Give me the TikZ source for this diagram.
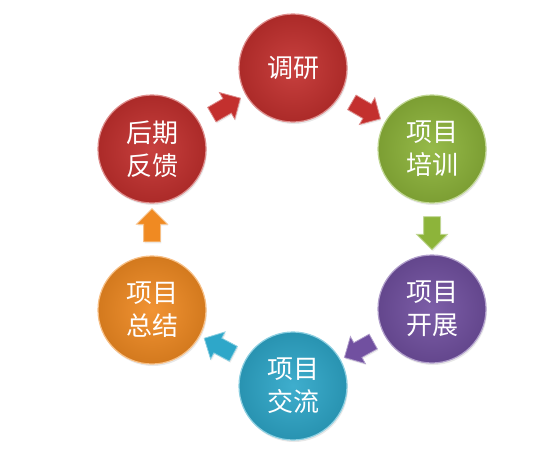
\documentclass[tikz,border=0pt]{standalone}
\usepackage{fontspec}
\newfontfamily\cjk{Noto Sans CJK SC}
\usetikzlibrary{shapes.arrows,shadows,calc}
\definecolor{cred}{HTML}{C3302E}
\definecolor{cgreen}{HTML}{8DB43A}
\definecolor{cpurple}{HTML}{7150A0}
\definecolor{ccyan}{HTML}{2EA7C9}
\definecolor{corange}{HTML}{F08A22}
\begin{document}
\begin{tikzpicture}[x=1pt,y=-1pt,
  ballnode/.style={circle, minimum size=108pt, inner sep=0pt, text=white,
    font=\cjk\fontsize{26}{33}\selectfont, align=center,
    draw=#1!55!white, line width=1.2pt, shading=radial,
    inner color=#1!92!white, outer color=#1!88!black,
    drop shadow={opacity=0.18, shadow xshift=1pt, shadow yshift=-2pt}},
  flowarrow/.style={single arrow, minimum height=33pt, minimum width=30pt,
    single arrow head extend=7pt, single arrow head indent=0pt,
    inner sep=0pt, text height=16pt, text depth=0pt, text width=0pt,
    fill=#1, draw=#1!55!white, line width=0.8pt,
    drop shadow={opacity=0.15, shadow xshift=1pt, shadow yshift=-1.5pt}}
]
\useasboundingbox (0,0) rectangle (560,464);
\node[ballnode=cred]    (dy) at (293,68)  {调研};
\node[ballnode=cgreen]  (px) at (432,149) {项目\\培训};
\node[ballnode=cpurple] (kz) at (432,309) {项目\\开展};
\node[ballnode=ccyan]   (jl) at (293,386) {项目\\交流};
\node[ballnode=corange] (zj) at (152,310) {项目\\总结};
\node[ballnode=cred]    (fk) at (152,149) {后期\\反馈};
\node[flowarrow=cred,    rotate=30]   (a1) at ($(fk)!0.5!(dy)$) {};
\node[flowarrow=cred,    rotate=-30]  (a2) at ($(dy)!0.5!(px)$) {};
\node[flowarrow=cgreen,  rotate=-90]  (a3) at ($(px)!0.5!(kz)$) {};
\node[flowarrow=cpurple, rotate=-151] (a4) at ($(kz)!0.5!(jl)$) {};
\node[flowarrow=ccyan,   rotate=152]  (a5) at ($(jl)!0.5!(zj)$) {};
\node[flowarrow=corange, rotate=90]   (a6) at ($(zj)!0.5!(fk)$) {};
\end{tikzpicture}
\end{document}
